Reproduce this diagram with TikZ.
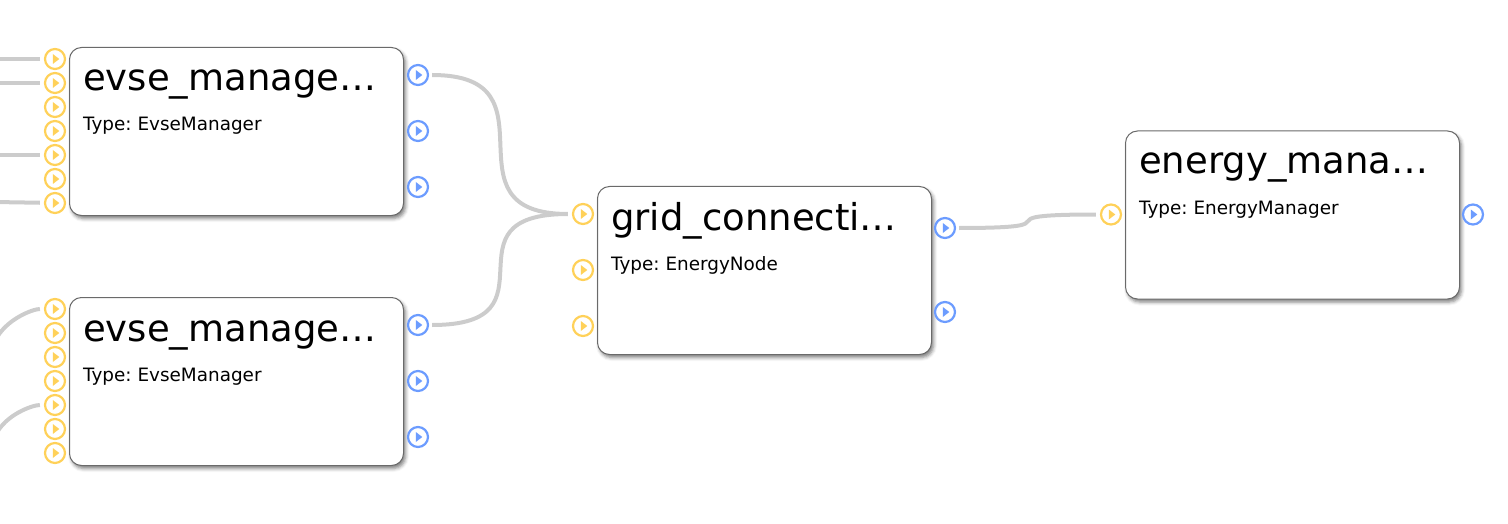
\documentclass[tikz,border=0pt]{standalone}
\usepackage{fontspec}
\setmainfont{DejaVu Sans}
\usepackage{tikz}
\usetikzlibrary{shadows.blur}
\definecolor{colorIn}{HTML}{FFD159}
\definecolor{colorOut}{HTML}{6C9CFF}
\definecolor{colorEdge}{HTML}{CCCCCC}
\definecolor{colorBorder}{HTML}{6A6A6A}
\frenchspacing

\tikzset{
    box/.style={draw=colorBorder, line width=1pt, rounded corners=12pt, fill=white,
        minimum width=334pt, minimum height=168pt, inner sep=0pt, anchor=north west,
        blur shadow={shadow xshift=2pt, shadow yshift=-3pt, shadow blur radius=3.5pt, shadow opacity=50}},
    title/.style={anchor=base west, inner sep=0pt, font=\fontsize{37pt}{42pt}\selectfont},
    typeline/.style={anchor=base west, inner sep=0pt, font=\fontsize{18.4pt}{22pt}\selectfont},
    port/.style={circle, line width=2.2pt, minimum size=20pt, inner sep=0pt, fill=white,
        path picture={\fill[#1] ([xshift=-2.2pt,yshift=5pt]path picture bounding box.center)
            -- ([xshift=4.3pt]path picture bounding box.center)
            -- ([xshift=-2.2pt,yshift=-5pt]path picture bounding box.center) -- cycle;}},
    inport/.style={port=colorIn, draw=colorIn},
    outport/.style={port=colorOut, draw=colorOut},
    edge/.style={draw=colorEdge, line width=4pt, shorten <=3pt, shorten >=4pt}
}

\begin{document}
\begin{tikzpicture}[x=1pt, y=-1pt]
        \useasboundingbox (0,0) rectangle (1508,524);
        \clip (0,0) rectangle (1508,524);
        % blocks
        \node[box] (evseTop) at (69,47) {};
        \node[box] (evseBottom) at (69,297) {};
        \node[box] (gridConn) at (597,186) {};
        \node[box] (energyMgr) at (1125,130.5) {};
        \node[title] (evseTopName) at ([shift={(14,44)}]evseTop.north west) {evse\_manage…};
        \node[typeline] (evseTopType) at ([shift={(14,84)}]evseTop.north west) {Type: EvseManager};
        \node[title] (evseBottomName) at ([shift={(14,44)}]evseBottom.north west) {evse\_manage…};
        \node[typeline] (evseBottomType) at ([shift={(14,84)}]evseBottom.north west) {Type: EvseManager};
        \node[title] (gridConnName) at ([shift={(14,44)}]gridConn.north west) {grid\_connecti…};
        \node[typeline] (gridConnType) at ([shift={(14,84)}]gridConn.north west) {Type: EnergyNode};
        \node[title] (energyMgrName) at ([shift={(14,43)}]energyMgr.north west) {energy\_mana…};
        \node[typeline] (energyMgrType) at ([shift={(14,84)}]energyMgr.north west) {Type: EnergyManager};
        % ports of evseTop
        \node[inport] (evseTopIn1) at ([shift={(-14,12)}]evseTop.north west) {};
        \node[inport] (evseTopIn2) at ([shift={(-14,36)}]evseTop.north west) {};
        \node[inport] (evseTopIn3) at ([shift={(-14,60)}]evseTop.north west) {};
        \node[inport] (evseTopIn4) at ([shift={(-14,84)}]evseTop.north west) {};
        \node[inport] (evseTopIn5) at ([shift={(-14,108)}]evseTop.north west) {};
        \node[inport] (evseTopIn6) at ([shift={(-14,132)}]evseTop.north west) {};
        \node[inport] (evseTopIn7) at ([shift={(-14,156)}]evseTop.north west) {};
        \node[outport] (evseTopOut1) at ([shift={(14,28)}]evseTop.north east) {};
        \node[outport] (evseTopOut2) at ([shift={(14,84)}]evseTop.north east) {};
        \node[outport] (evseTopOut3) at ([shift={(14,140)}]evseTop.north east) {};
        % ports of evseBottom
        \node[inport] (evseBottomIn1) at ([shift={(-14,12)}]evseBottom.north west) {};
        \node[inport] (evseBottomIn2) at ([shift={(-14,36)}]evseBottom.north west) {};
        \node[inport] (evseBottomIn3) at ([shift={(-14,60)}]evseBottom.north west) {};
        \node[inport] (evseBottomIn4) at ([shift={(-14,84)}]evseBottom.north west) {};
        \node[inport] (evseBottomIn5) at ([shift={(-14,108)}]evseBottom.north west) {};
        \node[inport] (evseBottomIn6) at ([shift={(-14,132)}]evseBottom.north west) {};
        \node[inport] (evseBottomIn7) at ([shift={(-14,156)}]evseBottom.north west) {};
        \node[outport] (evseBottomOut1) at ([shift={(14,28)}]evseBottom.north east) {};
        \node[outport] (evseBottomOut2) at ([shift={(14,84)}]evseBottom.north east) {};
        \node[outport] (evseBottomOut3) at ([shift={(14,140)}]evseBottom.north east) {};
        % ports of gridConn
        \node[inport] (gridConnIn1) at ([shift={(-14,28)}]gridConn.north west) {};
        \node[inport] (gridConnIn2) at ([shift={(-14,84)}]gridConn.north west) {};
        \node[inport] (gridConnIn3) at ([shift={(-14,140)}]gridConn.north west) {};
        \node[outport] (gridConnOut1) at ([shift={(13,42)}]gridConn.north east) {};
        \node[outport] (gridConnOut2) at ([shift={(13,126)}]gridConn.north east) {};
        % ports of energyMgr
        \node[inport] (energyMgrIn1) at ([shift={(-14,84)}]energyMgr.north west) {};
        \node[outport] (energyMgrOut1) at ([shift={(13,84)}]energyMgr.north east) {};
        % loose ends coming from the left
        \coordinate (srcTop1) at (-6,59);
        \coordinate (srcTop2) at (-6,83);
        \coordinate (srcTop5) at (-6,155);
        \coordinate (srcTop7) at (-6,202);
        \coordinate (srcBottom1) at (-6,343);
        \coordinate (srcBottom5) at (-6,438);
        % connections
        \draw[edge] (srcTop1) -- (evseTopIn1);
        \draw[edge] (srcTop2) -- (evseTopIn2);
        \draw[edge] (srcTop5) -- (evseTopIn5);
        \draw[edge] (srcTop7) -- (evseTopIn7);
        \draw[edge] (srcBottom1) .. controls +(12,-24) and +(-22,0) .. (evseBottomIn1);
        \draw[edge] (srcBottom5) .. controls +(12,-24) and +(-22,0) .. (evseBottomIn5);
        \draw[edge] (evseTopOut1) .. controls +(145,0) and +(-145,0) .. (gridConnIn1);
        \draw[edge] (evseBottomOut1) .. controls +(145,0) and +(-145,0) .. (gridConnIn1);
        \draw[edge] (gridConnOut1) .. controls +(142,0) and +(-142,0) .. (energyMgrIn1);
    \end{tikzpicture}
\end{document}
